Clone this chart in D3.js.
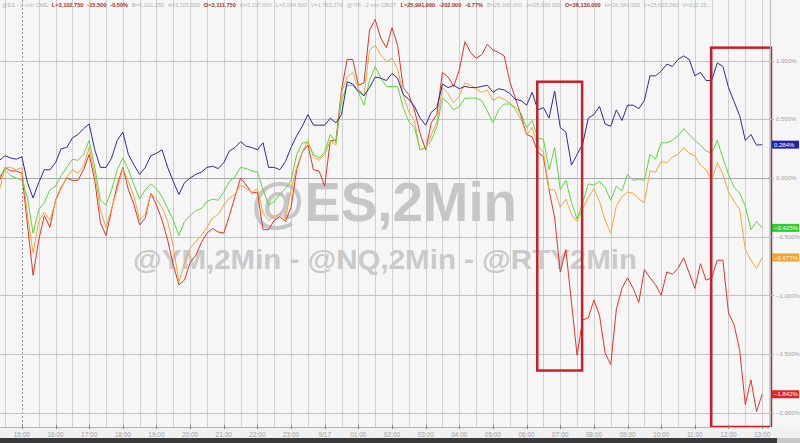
<!DOCTYPE html>
<html><head><meta charset="utf-8">
<script src="https://cdn.jsdelivr.net/npm/d3@7"></script>
<style>
html,body{margin:0;padding:0;background:#f6f6f6;}
svg{display:block;font-family:"Liberation Sans",Arial,sans-serif;}
</style></head>
<body><svg id="c" width="800" height="443"></svg>
<script>
// ---- data ----
const START = new Date(2019, 8, 16, 14, 20); // first sample
const STEP_MIN = 10;                         // sample spacing (minutes)
const seriesNames = ["@RTY", "@NQ", "@YM", "@ES"];
const seriesColors = ["#e0352b", "#f4a640", "#5cd840", "#2c2c96"];
const es = [0.15,0.19,0.17,0.16,0.18,-0.04,-0.17,-0.04,0.07,0.07,
0.13,0.25,0.26,0.34,0.37,0.42,0.46,0.24,0.09,0.09,
0.17,0.32,0.39,0.20,0.11,0.03,0.09,0.19,0.21,0.24,
0.09,-0.03,-0.14,-0.04,0.00,0.03,0.05,0.09,0.10,0.08,
0.13,0.23,0.26,0.31,0.27,0.26,0.24,0.30,0.09,0.09,
0.07,0.14,0.26,0.36,0.44,0.54,0.45,0.45,0.45,0.51,
0.47,0.54,0.82,0.80,0.74,0.70,0.77,0.86,0.85,0.83,
0.89,0.85,0.71,0.67,0.61,0.51,0.45,0.56,0.60,0.80,
0.77,0.79,0.76,0.78,0.77,0.77,0.78,0.79,0.73,0.76,
0.75,0.72,0.67,0.66,0.62,0.73,0.58,0.60,0.51,0.74,
0.43,0.39,0.11,0.20,0.29,0.51,0.54,0.61,0.46,0.44,
0.58,0.49,0.62,0.62,0.59,0.66,0.87,0.87,0.91,0.97,
0.95,1.01,1.04,1.01,0.87,0.90,0.83,0.83,0.98,0.95,
0.77,0.65,0.53,0.32,0.37,0.28,0.284];
const ym = [0.01,0.07,0.02,0.00,-0.02,-0.17,-0.47,-0.27,-0.21,-0.10,
-0.07,0.02,0.09,0.16,0.15,0.20,0.32,0.09,-0.19,-0.23,
-0.10,0.07,0.17,0.07,-0.06,-0.18,-0.10,-0.05,-0.09,-0.16,
-0.26,-0.36,-0.49,-0.37,-0.32,-0.28,-0.26,-0.20,-0.18,-0.19,
-0.12,-0.03,0.01,0.09,0.08,0.06,0.05,-0.10,-0.23,-0.20,
-0.14,-0.09,-0.02,0.20,0.30,0.30,0.20,0.17,0.22,0.37,
0.30,0.66,0.79,0.79,0.73,0.62,0.83,0.95,0.85,0.78,
0.78,0.78,0.60,0.48,0.43,0.24,0.26,0.32,0.44,0.68,
0.64,0.58,0.61,0.68,0.68,0.68,0.66,0.57,0.47,0.58,
0.63,0.63,0.60,0.55,0.43,0.49,0.34,0.33,0.07,0.26,
-0.10,-0.02,-0.21,-0.35,-0.21,-0.05,-0.06,-0.03,-0.08,-0.19,
-0.07,-0.11,0.03,-0.02,-0.01,-0.02,0.20,0.16,0.30,0.30,
0.32,0.36,0.42,0.37,0.32,0.28,0.23,0.21,0.32,0.17,
0.03,-0.08,-0.13,-0.24,-0.44,-0.37,-0.425];
const nq = [-0.10,0.09,0.09,0.07,0.09,-0.31,-0.64,-0.37,-0.29,-0.36,
-0.20,-0.09,0.01,0.07,0.04,0.10,0.26,0.03,-0.27,-0.42,
-0.26,-0.10,0.08,-0.03,-0.16,-0.36,-0.31,-0.13,-0.18,-0.25,
-0.37,-0.58,-0.89,-0.72,-0.60,-0.54,-0.49,-0.42,-0.34,-0.31,
-0.23,-0.17,-0.14,-0.06,-0.09,-0.12,-0.09,-0.30,-0.36,-0.33,
-0.30,-0.35,-0.10,0.09,0.22,0.32,0.18,0.15,0.20,0.32,
0.28,0.73,0.86,0.90,0.76,0.70,1.09,1.13,1.05,0.99,
1.02,0.93,0.71,0.56,0.49,0.24,0.26,0.37,0.47,0.77,
0.72,0.64,0.70,0.81,0.79,0.76,0.73,0.75,0.66,0.69,
0.67,0.64,0.58,0.50,0.37,0.43,0.27,0.22,-0.10,-0.10,
-0.25,-0.18,-0.31,-0.37,-0.26,-0.17,-0.09,-0.20,-0.36,-0.47,
-0.24,-0.16,-0.12,-0.13,-0.18,-0.21,0.06,0.05,0.14,0.13,
0.18,0.20,0.26,0.21,0.19,0.11,0.07,-0.02,0.13,0.03,
-0.12,-0.20,-0.27,-0.61,-0.70,-0.77,-0.677];
const rty = [-0.02,0.09,0.06,0.06,0.04,-0.40,-0.83,-0.53,-0.32,-0.42,
-0.19,-0.08,0.00,-0.02,-0.02,0.07,0.20,-0.02,-0.38,-0.49,
-0.27,-0.06,0.09,-0.10,-0.23,-0.40,-0.34,-0.13,-0.23,-0.36,
-0.53,-0.74,-0.91,-0.87,-0.72,-0.66,-0.55,-0.47,-0.43,-0.46,
-0.47,-0.32,-0.16,0.00,-0.06,-0.13,-0.12,-0.44,-0.44,-0.36,
-0.33,-0.37,-0.25,0.07,0.22,0.28,0.07,0.06,-0.07,0.32,
0.32,0.75,1.01,1.01,0.79,0.81,1.26,1.35,1.19,1.11,
1.28,1.13,0.77,0.71,0.58,0.38,0.24,0.47,0.54,0.90,
0.86,0.78,0.92,1.16,1.07,1.02,1.05,1.14,1.09,1.07,
1.04,0.82,0.68,0.53,0.37,0.35,0.22,0.18,-0.10,-0.34,
-0.80,-0.61,-1.06,-1.51,-1.21,-1.19,-1.04,-1.17,-1.49,-1.59,
-1.12,-0.94,-0.85,-0.94,-1.06,-0.78,-0.85,-0.91,-1.00,-0.80,
-0.82,-0.77,-0.68,-0.81,-0.94,-0.73,-0.87,-0.85,-0.70,-0.70,
-1.15,-1.25,-1.47,-1.93,-1.72,-1.99,-1.842];
const yTicks = [1.0, 0.5, 0.0, -0.5, -1.0, -1.5, -2.0];
const lastTags = [0.284, -0.425, -0.677, -1.842];
const tagColors = ["#2222a8", "#2fcc2f", "#f0a030", "#e02424"];
// highlighted windows: [start time, end time, top %, bottom %]
const boxes = [
  [new Date(2019,8,17,6,19), new Date(2019,8,17,7,39), 0.82, -1.64],
  [new Date(2019,8,17,11,29), new Date(2019,8,17,13,16), 1.11, -2.20]
];
const headerParts = [
  ["@ES - 2 min CME", 0], ["L=3,102.750", 1], ["-15.500", 1], ["-0.50%", 1],
  ["B=3,102.250", 0], ["A=3,103.000", 0], ["O=3,111.750", 1], ["H=3,117.000", 0],
  ["L=3,094.500", 0], ["V=1,763,274", 0], ["@YM - 2 min CBOT", 0], ["L=25,991.000", 1],
  ["-202.000", 1], ["-0.77%", 1], ["B=25,990.000", 0], ["A=25,993.000", 0],
  ["O=26,130.000", 1], ["H=26,184.000", 0], ["L=25,923.000", 0], ["V=212,15...", 0]
];

// ---- layout ----
const W = 800, H = 443, plotR = 770, axisY = 427;
const svg = d3.select("#c");
const times = d3.range(es.length).map(i => d3.timeMinute.offset(START, i * STEP_MIN));
const x = d3.scaleTime()
  .domain([new Date(2019,8,16,14,21), new Date(2019,8,17,13,14)])
  .range([0, plotR]);
const y = d3.scaleLinear().domain([-2.121, 1.516]).range([axisY, 0]);

svg.append("rect").attr("width", W).attr("height", H).attr("fill", "#f6f6f6");

svg.append("clipPath").attr("id", "pc").append("rect")
  .attr("x", 0).attr("y", 0).attr("width", plotR).attr("height", axisY);

// grid
const g = svg.append("g");
const half = d3.timeMinute.every(30).range(x.domain()[0], x.domain()[1]);
const isSession = d => d.getHours() === 15 && d.getMinutes() === 0;
g.selectAll(".vg").data(half).join("line")
  .attr("x1", d => Math.round(x(d)) + 0.5).attr("x2", d => Math.round(x(d)) + 0.5)
  .attr("y1", 0).attr("y2", axisY)
  .attr("stroke", d => isSession(d) ? "#9a9a9a" : "#cfcfcf")
  .attr("stroke-dasharray", d => isSession(d) ? "2,2" : null)
  .attr("stroke-width", 1);
g.selectAll(".hg").data(yTicks).join("line")
  .attr("x1", 0).attr("x2", plotR)
  .attr("y1", d => Math.round(y(d)) + 0.5).attr("y2", d => Math.round(y(d)) + 0.5)
  .attr("stroke", d => d === 0 ? "#a8a8a8" : "#c4c4c4").attr("stroke-width", 1);

// watermarks
svg.append("text").attr("x", 384).attr("y", 221).attr("text-anchor", "middle")
  .attr("font-size", 56).attr("font-weight", "bold").attr("fill", "#c6c6c6")
  .attr("textLength", 266).attr("lengthAdjust", "spacingAndGlyphs")
  .text("@ES,2Min");
svg.append("text").attr("x", 385).attr("y", 269).attr("text-anchor", "middle")
  .attr("font-size", 28).attr("font-weight", "bold").attr("fill", "#cacaca")
  .attr("textLength", 504).attr("lengthAdjust", "spacingAndGlyphs")
  .text("@YM,2Min - @NQ,2Min - @RTY2Min");

// series
const line = d3.line().x((d, i) => x(times[i])).y(d => y(d));
const lines = svg.append("g").attr("clip-path", "url(#pc)");
[rty, nq, ym, es].forEach((s, k) => {
  lines.append("path").datum(s).attr("d", line)
    .attr("fill", "none").attr("stroke", seriesColors[k])
    .attr("stroke-width", 1).attr("stroke-linejoin", "round");
});

// boxes
svg.selectAll(".box").data(boxes).join("rect")
  .attr("x", d => x(d[0])).attr("y", d => Math.max(y(d[2]), 0))
  .attr("width", d => Math.min(x(d[1]), plotR + 1) - x(d[0]))
  .attr("height", d => Math.min(y(d[3]), axisY) - Math.max(y(d[2]), 0))
  .attr("fill", "none").attr("stroke", "#c8202a").attr("stroke-width", 2.5);

// plot border right
svg.append("line").attr("x1", plotR + 0.5).attr("x2", plotR + 0.5)
  .attr("y1", 0).attr("y2", axisY).attr("stroke", "#b8b8b8");

// y axis labels
svg.selectAll(".yl").data(yTicks).join("text")
  .attr("x", 776).attr("y", d => y(d) + 2.2)
  .attr("font-size", 6).attr("fill", "#a0a0a0")
  .text(d => d3.format(".3f")(d) + "%");
svg.selectAll(".yt").data(yTicks).join("line")
  .attr("x1", plotR).attr("x2", plotR + 4)
  .attr("y1", d => Math.round(y(d)) + 0.5).attr("y2", d => Math.round(y(d)) + 0.5)
  .attr("stroke", "#b0b0b0");

// last value tags
svg.selectAll(".tag").data(lastTags).join("rect")
  .attr("x", 772).attr("y", d => y(d) - 4).attr("width", 27).attr("height", 8)
  .attr("fill", (d, i) => tagColors[i]);
svg.selectAll(".tagt").data(lastTags).join("text")
  .attr("x", 774).attr("y", d => y(d) + 2.2)
  .attr("font-size", 6).attr("fill", "#fff")
  .text(d => d3.format(".3f")(d) + "%");

// x axis
svg.append("rect").attr("x", 0).attr("y", axisY).attr("width", W).attr("height", 11).attr("fill", "#f1f1f1");
svg.append("line").attr("x1", 0).attr("x2", plotR).attr("y1", axisY + 0.5).attr("y2", axisY + 0.5)
  .attr("stroke", "#b4b4b4");
const hours = d3.timeHour.every(1).range(x.domain()[0], x.domain()[1]);
svg.selectAll(".xt").data(hours).join("line")
  .attr("x1", d => Math.round(x(d)) + 0.5).attr("x2", d => Math.round(x(d)) + 0.5)
  .attr("y1", axisY - 2).attr("y2", axisY + 2).attr("stroke", "#888");
svg.selectAll(".xl").data(hours).join("text")
  .attr("x", d => x(d)).attr("y", 436.5).attr("text-anchor", "middle")
  .attr("font-size", 6.5).attr("fill", "#a0a0a0")
  .text(d => d.getHours() === 0 ? (d.getMonth() + 1) + "/" + d.getDate() : d3.timeFormat("%H:%M")(d));

// bottom dark bar
svg.append("rect").attr("x", 0).attr("y", 438).attr("width", W).attr("height", 5).attr("fill", "#3a3a3c");
svg.append("rect").attr("x", 777).attr("y", 438).attr("width", 23).attr("height", 5).attr("fill", "#c8c8c8");

// header
const hdr = svg.append("text").attr("x", 2).attr("y", 6.5).attr("font-size", 5.6);
headerParts.forEach((p, i) => {
  hdr.append("tspan").attr("dx", i ? 4 : 0)
    .attr("fill", p[1] ? "#a8322c" : "#b4b4b4")
    .attr("font-weight", p[1] ? "bold" : null)
    .text(p[0]);
});
</script></body></html>
